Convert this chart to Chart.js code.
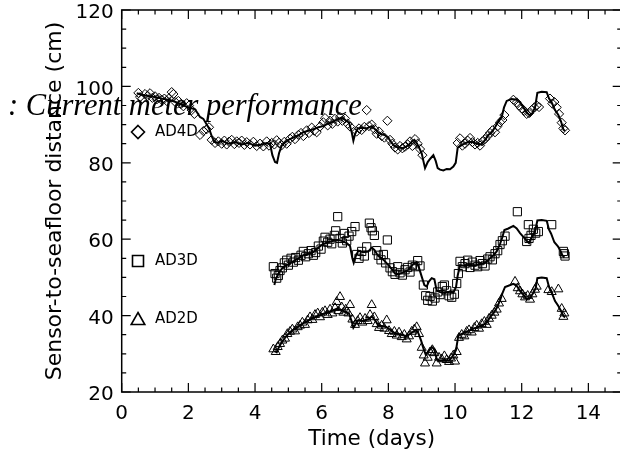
<!DOCTYPE html>
<html><head><meta charset="utf-8">
<script src="https://cdn.jsdelivr.net/npm/chart.js@4/dist/chart.umd.min.js"></script>
<style>html,body{margin:0;padding:0;background:#fff;overflow:hidden;width:620px;height:460px}canvas{display:block}</style>
</head><body><canvas id="c" width="640" height="460"></canvas>
<script>
const seriesNames = ['AD4D', 'AD3D', 'AD2D'];
const xTicks = [0, 2, 4, 6, 8, 10, 12, 14];
const yTicks = [20, 40, 60, 80, 100, 120];
const titleText = ': Current meter performance';
const xTitle = 'Time (days)';
const yTitle = 'Sensor-to-seafloor distance (cm)';

// solid lines [time (days), distance (cm)]
const ad4dLine = [[0.45,98.2],[0.6,97.8],[0.8,97.5],[1.0,97.2],[1.2,96.8],[1.4,96.5],[1.6,96.0],[1.8,95.2],[2.0,94.5],[2.2,94.0],[2.35,92.0],[2.45,91.5],[2.55,90.0],[2.62,89.0],[2.7,87.0],[2.78,85.5],[2.9,85.2],[3.0,85.8],[3.2,85.0],[3.4,85.4],[3.6,84.8],[3.8,85.2],[4.0,84.5],[4.2,84.8],[4.35,85.2],[4.45,85.0],[4.52,82.0],[4.6,80.2],[4.66,80.0],[4.72,82.5],[4.8,84.5],[4.9,85.3],[5.0,86.0],[5.15,86.6],[5.3,87.2],[5.45,88.0],[5.6,88.4],[5.75,88.8],[5.9,89.3],[6.05,89.6],[6.2,90.3],[6.35,90.8],[6.5,91.5],[6.6,91.8],[6.7,91.2],[6.82,90.5],[6.9,88.0],[6.95,85.8],[7.0,87.5],[7.08,89.0],[7.2,89.2],[7.35,89.0],[7.5,89.6],[7.6,88.8],[7.7,87.8],[7.8,87.5],[7.9,87.2],[8.0,86.5],[8.1,85.2],[8.2,84.3],[8.3,84.0],[8.45,83.8],[8.6,84.6],[8.7,85.5],[8.78,86.0],[8.85,85.2],[8.92,84.0],[9.0,82.5],[9.05,80.5],[9.1,78.6],[9.18,80.2],[9.25,81.0],[9.35,82.0],[9.42,80.5],[9.48,78.6],[9.55,78.2],[9.65,78.0],[9.75,78.4],[9.85,78.3],[9.95,79.0],[10.02,80.0],[10.08,84.0],[10.2,84.6],[10.35,85.3],[10.5,85.5],[10.65,85.0],[10.8,84.8],[10.9,86.0],[11.0,87.3],[11.1,88.0],[11.2,89.3],[11.3,90.8],[11.4,92.0],[11.47,94.5],[11.55,96.2],[11.7,96.7],[11.85,96.5],[11.95,95.8],[12.05,94.5],[12.15,93.2],[12.25,92.3],[12.32,93.0],[12.4,94.5],[12.47,98.3],[12.6,98.6],[12.75,98.5],[12.82,96.8],[12.9,95.8],[13.0,93.8],[13.1,92.5],[13.18,90.8],[13.25,88.7],[13.3,88.3]];
const ad3dLine = [[4.58,48.0],[4.62,49.5],[4.7,51.0],[4.8,52.2],[4.9,53.0],[5.0,53.4],[5.15,54.2],[5.3,55.0],[5.45,55.8],[5.6,56.2],[5.75,56.6],[5.9,57.8],[6.05,58.8],[6.2,59.2],[6.35,59.6],[6.5,59.8],[6.62,59.5],[6.75,59.0],[6.85,58.2],[6.92,55.0],[6.96,53.8],[7.02,55.5],[7.1,57.0],[7.25,56.6],[7.4,56.8],[7.5,57.8],[7.58,57.2],[7.68,55.8],[7.8,55.0],[7.9,54.2],[8.0,53.2],[8.1,52.2],[8.2,51.0],[8.3,50.8],[8.45,51.3],[8.6,52.0],[8.75,53.5],[8.85,54.0],[8.92,52.5],[9.0,50.2],[9.08,48.0],[9.15,47.6],[9.22,49.0],[9.3,49.8],[9.38,49.5],[9.45,46.5],[9.55,46.2],[9.7,45.9],[9.85,46.3],[9.95,46.0],[10.03,47.5],[10.08,50.5],[10.15,53.2],[10.3,53.0],[10.45,53.3],[10.6,53.1],[10.75,53.5],[10.9,53.8],[11.0,54.6],[11.15,55.8],[11.25,56.8],[11.35,58.8],[11.42,60.5],[11.48,62.4],[11.6,62.8],[11.75,63.5],[11.85,62.8],[11.95,61.6],[12.05,60.6],[12.15,59.6],[12.22,59.0],[12.3,60.5],[12.4,62.0],[12.47,64.9],[12.6,65.0],[12.75,64.8],[12.82,62.5],[12.88,61.5],[12.98,59.2],[13.08,58.2],[13.15,57.2],[13.22,55.8],[13.28,55.2]];
const ad2dLine = [[4.58,30.8],[4.65,30.4],[4.72,31.8],[4.8,33.0],[4.9,34.2],[5.0,35.2],[5.1,36.0],[5.25,36.8],[5.4,37.8],[5.55,38.5],[5.7,39.2],[5.85,39.8],[6.0,40.3],[6.15,40.8],[6.3,41.2],[6.45,41.8],[6.55,41.6],[6.7,41.0],[6.82,40.5],[6.9,38.5],[6.95,36.8],[7.02,37.8],[7.1,38.8],[7.25,38.6],[7.4,39.0],[7.5,39.8],[7.6,38.8],[7.7,37.4],[7.85,37.2],[7.95,37.0],[8.05,36.3],[8.15,35.6],[8.25,35.3],[8.4,35.0],[8.55,34.6],[8.7,35.5],[8.82,36.2],[8.9,35.4],[8.98,33.5],[9.05,31.5],[9.12,29.8],[9.2,30.6],[9.3,31.8],[9.38,31.2],[9.45,28.6],[9.55,28.2],[9.7,28.4],[9.82,28.2],[9.95,29.6],[10.03,31.0],[10.1,34.8],[10.25,35.4],[10.4,36.0],[10.55,36.6],[10.7,37.0],[10.85,37.6],[10.95,38.2],[11.05,39.6],[11.15,40.6],[11.25,42.0],[11.35,44.0],[11.42,45.8],[11.5,47.5],[11.6,47.8],[11.75,48.3],[11.85,47.8],[11.95,46.5],[12.05,45.5],[12.15,44.3],[12.25,44.6],[12.35,46.0],[12.42,47.2],[12.47,49.8],[12.6,50.0],[12.75,49.8],[12.82,47.5],[12.9,46.0],[13.0,43.8],[13.1,42.5],[13.18,41.2],[13.25,40.0],[13.3,39.5]];

// symbols [time (days), distance (cm)]
const ad4dPoints = [[0.5,98.3],[0.55,97.2],[0.62,96.8],[0.7,98.0],[0.78,97.5],[0.85,98.2],[0.92,97.0],[1.0,97.4],[1.05,96.6],[1.12,97.0],[1.2,96.5],[1.28,96.8],[1.35,96.2],[1.42,96.9],[1.5,98.5],[1.55,98.0],[1.62,95.8],[1.7,96.2],[1.78,95.4],[1.85,94.8],[1.95,95.6],[2.02,95.0],[2.1,93.8],[2.18,92.8],[2.35,87.3],[2.45,88.3],[2.55,88.8],[2.62,89.3],[2.7,86.0],[2.8,85.2],[2.9,85.6],[3.0,85.0],[3.08,85.8],[3.15,84.8],[3.22,85.5],[3.3,86.0],[3.38,84.9],[3.45,85.6],[3.52,85.2],[3.6,85.8],[3.68,84.7],[3.75,85.4],[3.85,84.8],[3.95,85.5],[4.05,84.4],[4.15,85.0],[4.25,84.3],[4.35,85.6],[4.42,84.5],[4.5,85.2],[4.58,84.8],[4.65,85.9],[4.72,85.2],[4.8,84.6],[4.88,85.5],[4.95,85.0],[5.05,86.3],[5.12,86.8],[5.2,86.2],[5.3,87.3],[5.38,87.8],[5.45,87.0],[5.55,88.5],[5.62,87.8],[5.7,89.2],[5.78,88.4],[5.85,88.0],[5.95,89.5],[6.05,90.6],[6.1,91.7],[6.18,89.8],[6.25,91.0],[6.32,90.2],[6.4,91.5],[6.48,90.8],[6.55,92.0],[6.62,91.0],[6.7,91.6],[6.78,90.2],[6.85,89.5],[7.05,88.2],[7.12,89.0],[7.2,88.6],[7.28,89.4],[7.35,93.8],[7.42,89.6],[7.5,90.0],[7.58,88.8],[7.65,87.6],[7.72,88.2],[7.8,87.0],[7.88,86.6],[7.97,91.0],[8.05,86.0],[8.12,85.0],[8.2,84.0],[8.28,83.5],[8.35,84.4],[8.42,83.8],[8.5,84.2],[8.58,84.8],[8.65,85.6],[8.72,84.4],[8.8,86.2],[8.88,85.0],[8.95,83.6],[9.02,82.0],[10.08,85.2],[10.15,86.4],[10.22,84.5],[10.3,85.0],[10.38,85.8],[10.45,86.5],[10.52,85.4],[10.6,84.8],[10.68,85.2],[10.75,84.5],[10.82,85.6],[10.9,86.2],[10.98,87.0],[11.05,87.8],[11.12,88.5],[11.2,88.0],[11.28,89.6],[11.35,90.6],[11.42,91.2],[11.48,92.5],[11.75,96.5],[11.85,95.8],[11.92,95.0],[12.0,94.2],[12.08,93.6],[12.15,92.8],[12.22,93.0],[12.3,93.8],[12.38,94.5],[12.45,95.0],[12.52,94.6],[12.85,96.8],[12.92,95.5],[12.98,95.9],[13.05,94.5],[13.12,92.8],[13.2,90.5],[13.25,89.0],[13.3,88.5]];
const ad3dPoints = [[4.55,52.8],[4.6,51.0],[4.65,49.8],[4.7,50.5],[4.75,51.8],[4.82,52.5],[4.88,53.8],[4.95,54.5],[5.0,53.2],[5.08,55.0],[5.15,54.0],[5.22,55.2],[5.3,54.5],[5.38,55.8],[5.45,56.8],[5.52,55.4],[5.6,56.2],[5.68,57.0],[5.75,55.8],[5.82,56.5],[5.9,58.2],[5.98,57.4],[6.05,59.5],[6.1,60.5],[6.18,59.2],[6.25,60.0],[6.3,58.8],[6.38,61.0],[6.42,62.2],[6.48,65.9],[6.55,60.2],[6.62,59.0],[6.68,61.5],[6.75,59.6],[6.82,60.8],[6.9,62.0],[7.0,63.3],[7.05,56.0],[7.12,55.0],[7.2,56.8],[7.28,55.6],[7.35,58.0],[7.43,64.2],[7.48,63.0],[7.52,62.2],[7.58,61.0],[7.65,57.0],[7.7,55.8],[7.78,54.6],[7.85,56.0],[7.92,53.8],[7.97,59.8],[8.05,52.5],[8.12,51.5],[8.2,50.8],[8.28,52.8],[8.35,51.2],[8.42,50.6],[8.5,52.0],[8.58,52.6],[8.65,51.4],[8.72,53.2],[8.8,52.8],[8.88,54.4],[8.95,53.0],[9.05,48.0],[9.12,45.2],[9.18,44.0],[9.25,45.0],[9.32,43.8],[9.4,44.6],[9.48,46.2],[9.55,45.5],[9.62,47.6],[9.68,48.0],[9.75,46.5],[9.82,45.2],[9.9,44.8],[9.98,45.6],[10.05,48.4],[10.1,51.0],[10.15,54.2],[10.22,52.8],[10.3,53.6],[10.38,54.5],[10.45,52.6],[10.52,54.0],[10.6,53.2],[10.68,52.8],[10.75,54.4],[10.82,53.6],[10.9,53.0],[10.98,54.8],[11.05,55.4],[11.12,54.6],[11.2,56.2],[11.28,57.0],[11.35,58.6],[11.42,59.6],[11.5,60.8],[11.87,67.2],[12.15,59.4],[12.2,63.8],[12.22,60.2],[12.28,61.0],[12.35,62.6],[12.42,61.6],[12.5,62.0],[12.9,63.8],[13.25,56.8],[13.28,56.2],[13.3,55.6]];
const ad2dPoints = [[4.55,31.2],[4.62,30.5],[4.68,31.8],[4.75,32.6],[4.82,33.5],[4.9,34.0],[4.97,35.2],[5.05,35.8],[5.12,36.4],[5.2,35.9],[5.28,37.0],[5.35,37.4],[5.42,38.2],[5.5,37.6],[5.58,38.8],[5.65,39.6],[5.72,38.9],[5.8,40.2],[5.88,40.6],[5.95,39.6],[6.02,40.8],[6.1,41.2],[6.18,40.2],[6.25,41.6],[6.32,40.6],[6.4,42.0],[6.45,43.6],[6.5,41.2],[6.55,44.9],[6.6,42.2],[6.65,40.8],[6.72,41.6],[6.8,40.6],[6.85,42.8],[6.92,39.0],[7.0,37.6],[7.08,38.6],[7.15,39.4],[7.22,38.2],[7.3,39.2],[7.38,38.6],[7.45,40.2],[7.5,42.8],[7.58,39.6],[7.65,37.8],[7.72,36.8],[7.8,37.4],[7.88,36.6],[7.95,38.8],[8.02,36.0],[8.1,35.2],[8.18,35.8],[8.25,34.8],[8.32,35.6],[8.4,34.4],[8.48,35.0],[8.55,33.8],[8.62,34.6],[8.7,35.8],[8.78,36.4],[8.85,37.0],[8.92,35.2],[9.0,31.6],[9.06,29.6],[9.1,27.5],[9.18,29.0],[9.25,30.4],[9.32,31.0],[9.38,30.2],[9.45,27.5],[9.52,29.0],[9.6,28.6],[9.68,29.4],[9.75,28.4],[9.82,27.9],[9.88,28.8],[9.95,29.6],[10.0,28.0],[10.05,30.5],[10.12,34.2],[10.2,35.0],[10.28,34.6],[10.35,35.8],[10.42,36.2],[10.5,35.6],[10.58,36.8],[10.65,37.4],[10.72,36.6],[10.8,37.8],[10.88,38.4],[10.95,37.6],[11.02,39.2],[11.1,40.0],[11.18,40.8],[11.25,41.6],[11.32,43.2],[11.4,44.4],[11.8,48.9],[11.88,47.2],[11.95,46.4],[12.02,45.6],[12.1,44.8],[12.18,45.2],[12.25,44.2],[12.32,45.6],[12.4,46.8],[12.45,47.6],[12.8,46.7],[12.9,46.2],[13.1,46.9],[13.2,41.8],[13.25,39.7],[13.28,40.6]];

const lines = [ad4dLine, ad3dLine, ad2dLine];
const points = [ad4dPoints, ad3dPoints, ad2dPoints];
const symbols = ['rectRot', 'rect', 'triangle'];
const symbolRadius = [4.6, 5.8, 5.2];

const toXY = arr => arr.map(p => ({x: p[0], y: p[1]}));
const datasets = [];
seriesNames.forEach((name, i) => {
  datasets.push({label: name + ' symbols', data: toXY(points[i]), showLine: false,
    pointStyle: symbols[i], pointRadius: symbolRadius[i], pointBorderWidth: 1,
    pointBorderColor: '#000', pointBackgroundColor: 'rgba(0,0,0,0)'});
  datasets.push({label: name, data: toXY(lines[i]), showLine: true, pointRadius: 0,
    borderColor: '#000', borderWidth: 2, tension: 0, fill: false});
});

const titlePlugin = {
  id: 'overTitle',
  beforeDatasetsDraw(chart) {
    const ctx = chart.ctx;
    ctx.save();
    ctx.fillStyle = '#000';
    ctx.font = 'italic 30.5px "Liberation Serif", "Times New Roman", serif';
    ctx.textBaseline = 'alphabetic';
    ctx.textAlign = 'left';
    ctx.fillText(titleText, 8, 115);
    ctx.restore();
  }
};

const framePlugin = {
  id: 'frame',
  afterDatasetsDraw(chart) {
    const {ctx, chartArea: a, scales: {x, y}} = chart;
    ctx.save();
    ctx.strokeStyle = '#000';
    ctx.lineWidth = 1.5;
    ctx.strokeRect(a.left, a.top, a.right - a.left, a.bottom - a.top);
    ctx.lineWidth = 1.2;
    ctx.beginPath();
    for (let t = x.min; t <= x.max + 1e-9; t += 0.5) {
      const px = x.getPixelForValue(t);
      const L = (Math.abs(t % 2) < 1e-9) ? 9 : 4.5;
      ctx.moveTo(px, a.bottom); ctx.lineTo(px, a.bottom - L);
      ctx.moveTo(px, a.top); ctx.lineTo(px, a.top + L);
    }
    for (let v = y.min; v <= y.max + 1e-9; v += 5) {
      const py = y.getPixelForValue(v);
      const L = (Math.abs(v % 20) < 1e-9) ? 9 : 4.5;
      ctx.moveTo(a.left, py); ctx.lineTo(a.left + L, py);
      ctx.moveTo(a.right, py); ctx.lineTo(a.right - L, py);
    }
    ctx.stroke();

    // series labels
    const lx = 138, tx = 155;
    const ly = [132, 261, 319];
    ctx.font = '15px "DejaVu Sans", sans-serif';
    ctx.fillStyle = '#000';
    ctx.textBaseline = 'middle';
    ctx.textAlign = 'left';
    seriesNames.forEach((name, i) => {
      const cy = ly[i];
      ctx.lineWidth = 1.6;
      ctx.beginPath();
      if (symbols[i] === 'rectRot') {
        ctx.moveTo(lx, cy - 6.5); ctx.lineTo(lx + 6.5, cy); ctx.lineTo(lx, cy + 6.5); ctx.lineTo(lx - 6.5, cy); ctx.closePath();
      } else if (symbols[i] === 'rect') {
        ctx.rect(lx - 5.5, cy - 5.5, 11, 11);
      } else {
        ctx.moveTo(lx, cy - 6.5); ctx.lineTo(lx + 6.8, cy + 5.5); ctx.lineTo(lx - 6.8, cy + 5.5); ctx.closePath();
      }
      ctx.stroke();
      ctx.fillText(name, tx, cy);
    });
    ctx.restore();
  }
};

new Chart(document.getElementById('c'), {
  type: 'scatter',
  data: {datasets},
  options: {
    responsive: false,
    animation: false,
    devicePixelRatio: 1,
    layout: {padding: {left: 0, right: 18.3, top: 10, bottom: 0}},
    plugins: {legend: {display: false}, tooltip: {enabled: false}},
    scales: {
      x: {
        type: 'linear', position: 'bottom', min: 0, max: 15,
        afterBuildTicks: s => { s.ticks = xTicks.map(v => ({value: v})); },
        afterFit: s => { s.height = 68; s.paddingLeft = 0; s.paddingRight = 0; },
        grid: {display: false, drawTicks: false}, border: {display: false},
        ticks: {color: '#000', font: {family: 'DejaVu Sans', size: 20}, padding: 10, maxRotation: 0, autoSkip: false},
        title: {display: true, text: xTitle, color: '#000', font: {family: 'DejaVu Sans', size: 21.5}, padding: {top: 0, bottom: 8}}
      },
      y: {
        type: 'linear', position: 'left', min: 20, max: 120,
        afterBuildTicks: s => { s.ticks = yTicks.map(v => ({value: v})); },
        afterFit: s => { s.width = 121.7; s.paddingTop = 0; s.paddingBottom = 0; },
        grid: {display: false, drawTicks: false}, border: {display: false},
        ticks: {color: '#000', font: {family: 'DejaVu Sans', size: 20}, padding: 8, autoSkip: false, labelOffset: 3},
        title: {display: true, text: yTitle, color: '#000', font: {family: 'DejaVu Sans', size: 22}, padding: {top: 42, bottom: 0}}
      }
    }
  },
  plugins: [titlePlugin, framePlugin]
});
</script>
</body></html>
